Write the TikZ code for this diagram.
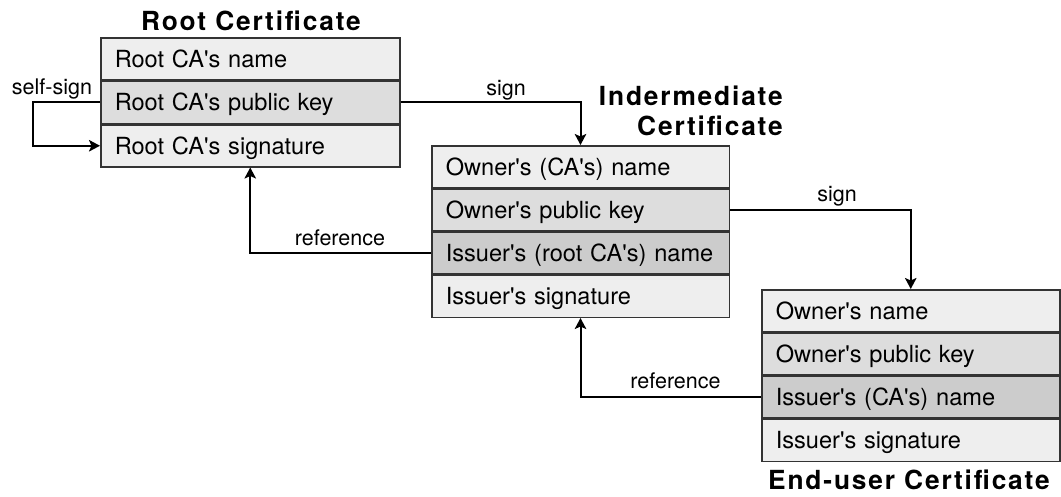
\documentclass[tikz,border=0pt]{standalone}
\usepackage{fontspec}
\usetikzlibrary{arrows.meta}
\newfontfamily\rowfont{TeX Gyre Heros}
\newfontfamily\titlefont{TeX Gyre Heros}[LetterSpace=7]
\definecolor{rowA}{HTML}{EEEEEE}
\definecolor{rowB}{HTML}{DDDDDD}
\definecolor{rowC}{HTML}{CCCCCC}
\definecolor{boxline}{HTML}{333333}
\begin{document}
\begin{tikzpicture}[x=1pt,y=-1pt,
  row/.style={draw=boxline, line width=1.5pt, anchor=north west, inner xsep=14pt, inner ysep=0pt,
    align=left, text height=17pt, text depth=0pt, font=\rowfont\fontsize{23.6}{28}\selectfont},
  rootrow/.style={row, text width=271pt, minimum height=42pt},
  introw/.style={row, text width=269.5pt, minimum height=41.75pt},
  endrow/.style={row, text width=270pt, minimum height=41.75pt},
  lbl/.style={font=\rowfont\fontsize{21.5}{26}\selectfont, inner sep=0pt, anchor=base},
  ttl/.style={font=\titlefont\bfseries\fontsize{26.3}{29.7}\selectfont, inner sep=0pt},
  conn/.style={draw=black, line width=2pt, -{Stealth[length=11pt,width=11.5pt,inset=2.5pt]}}
]
\useasboundingbox[fill=white] (0,0) rectangle (1061,496);

% Root certificate
\node[ttl, anchor=base] (roottitle) at (251,30.7) {Root Certificate};
\node[rootrow, fill=rowA] (root1) at (100,37) {Root CA's name};
\node[rootrow, fill=rowB] (root2) at (root1.south west) {Root CA's public key};
\node[rootrow, fill=rowA] (root3) at (root2.south west) {Root CA's signature};

% Intermediate certificate
\node[ttl, anchor=north east, align=right] (inttitle) at (783,86) {Indermediate\\Certificate};
\node[introw, fill=rowA] (int1) at (431,145) {Owner's (CA's) name};
\node[introw, fill=rowB] (int2) at (int1.south west) {Owner's public key};
\node[introw, fill=rowC] (int3) at (int2.south west) {Issuer's (root CA's) name};
\node[introw, fill=rowA] (int4) at (int3.south west) {Issuer's signature};

% End-user certificate
\node[endrow, fill=rowA] (end1) at (761,289) {Owner's name};
\node[endrow, fill=rowB] (end2) at (end1.south west) {Owner's public key};
\node[endrow, fill=rowC] (end3) at (end2.south west) {Issuer's (CA's) name};
\node[endrow, fill=rowA] (end4) at (end3.south west) {Issuer's signature};
\node[ttl, anchor=base] (endtitle) at (909,489.3) {End-user Certificate};

% Connectors
\draw[conn] (root2.west) -- ++(-67,0) |- (root3.west);
\node[lbl] (selfsign) at (52,94.3) {self-sign};

\draw[conn] (root2.east) -| (int1.north);
\node[lbl] (sign1) at (506,95) {sign};

\draw[conn] (int3.west) -| (root3.south);
\node[lbl] (ref1) at (340,245) {reference};

\draw[conn] (int2.east) -| (end1.north);
\node[lbl] (sign2) at (837,201.7) {sign};

\draw[conn] (end3.west) -| (int4.south);
\node[lbl] (ref2) at (675.5,388.3) {reference};
\end{tikzpicture}
\end{document}
